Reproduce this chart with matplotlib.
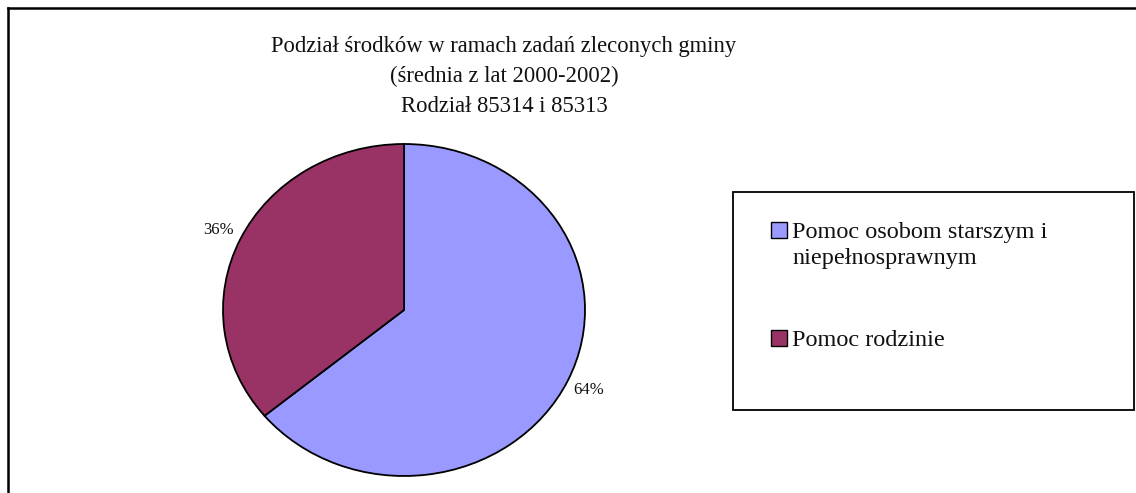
import matplotlib
matplotlib.use('Agg')
import matplotlib.pyplot as plt
from matplotlib.patches import Rectangle
from matplotlib.lines import Line2D

# Data
labels = ['Pomoc osobom starszym i\nniepełnosprawnym', 'Pomoc rodzinie']
shares = [64, 36]
colors = ['#9999FF', '#993366']
title = ('Podział środków w ramach zadań zleconych gminy\n'
         '(średnia z lat 2000-2002)\nRodział 85314 i 85313')

W, H = 1136, 493
plt.rcParams['font.family'] = ['Liberation Serif', 'DejaVu Serif']

fig = plt.figure(figsize=(W / 100, H / 100), dpi=100)
fig.patch.set_facecolor('white')

def px(x, y):
    # pixel (from top-left) -> figure fraction
    return x / W, 1 - y / H

# outer frame (only top and left visible, rest cut off)
fig.add_artist(Line2D([8 / W, 1.0], [1 - 8 / H, 1 - 8 / H], color='black',
                      lw=1.8, transform=fig.transFigure))
fig.add_artist(Line2D([8 / W, 8 / W], [0.0, 1 - 8 / H], color='black',
                      lw=1.8, transform=fig.transFigure))

# pie axes, stretched slightly like the original
cx, cy, rx, ry = 404, 310, 181, 166
ax = fig.add_axes([(cx - rx) / W, 1 - (cy + ry) / H, 2 * rx / W, 2 * ry / H])
wedges, texts, autotexts = ax.pie(
    shares, colors=colors, startangle=90, counterclock=False,
    autopct='%1.0f%%', pctdistance=1.13,
    wedgeprops=dict(edgecolor='black', linewidth=1.3))
ax.set_aspect('auto')
ax.set_xlim(-1, 1)
ax.set_ylim(-1, 1)
ax.axis('off')
for t in autotexts:
    t.set_fontsize(12)
    t.set_color('#111111')

# title
tx, ty = px(504, 36)
fig.text(tx, ty, title, ha='center', va='top', fontsize=16.3,
         linespacing=1.55, color='#111111')

# legend box
x0, y0 = px(733, 410)
x1, y1 = px(1134, 192)
fig.add_artist(Rectangle((x0, y0), x1 - x0, y1 - y0, fill=False,
                         edgecolor='black', lw=1.3,
                         transform=fig.transFigure))
entry_top = [222, 330]
for lab, w, ey in zip(labels, wedges, entry_top):
    sx, sy = px(771, ey + 16)
    fig.add_artist(Rectangle((sx, sy), 16 / W, 16 / H,
                             facecolor=w.get_facecolor(), edgecolor='black',
                             lw=1.0, transform=fig.transFigure))
    lx, ly = px(792, ey)
    fig.text(lx, ly, lab, ha='left', va='top', fontsize=17.5,
             linespacing=1.3, color='#111111')

fig.savefig('out.png', dpi=100, facecolor='white')
